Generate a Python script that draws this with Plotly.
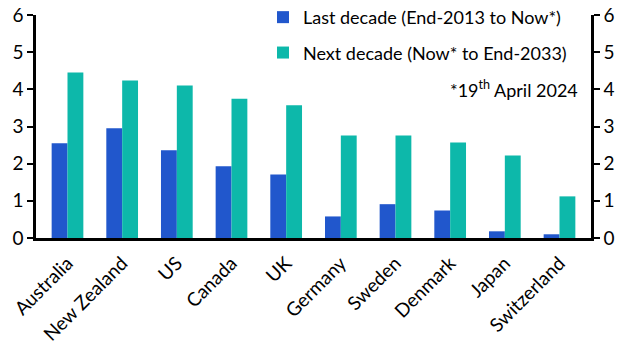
import plotly.graph_objects as go

countries = ["Australia", "New Zealand", "US", "Canada", "UK", "Germany",
             "Sweden", "Denmark", "Japan", "Switzerland"]
last_decade = [2.55, 2.95, 2.36, 1.93, 1.71, 0.58, 0.91, 0.74, 0.18, 0.10]
next_decade = [4.45, 4.24, 4.10, 3.75, 3.57, 2.76, 2.76, 2.57, 2.22, 1.12]
y_ticks = [0, 1, 2, 3, 4, 5, 6]

FONT = "Lato"
fig = go.Figure()
fig.add_trace(go.Bar(x=countries, y=last_decade, name="Last decade (End-2013 to Now*)",
                     marker=dict(color="#2157CC", line=dict(width=0)), legendgroup="a"))
fig.add_trace(go.Bar(x=countries, y=next_decade, name="Next decade (Now* to End-2033)",
                     marker=dict(color="#0DB8AA", line=dict(width=0)), legendgroup="b"))
fig.add_trace(go.Scatter(x=countries, y=next_decade, yaxis="y2", mode="markers",
                         marker=dict(opacity=0), showlegend=False, hoverinfo="skip"))

axis_common = dict(range=[0, 6], tickvals=y_ticks, showgrid=False, zeroline=False,
                   showline=True, linecolor="black", linewidth=2.5,
                   ticks="outside", ticklen=6, tickwidth=2, tickcolor="black",
                   automargin=False, ticklabeloverflow="allow",
                   tickfont=dict(family=FONT, size=19, color="black"))

# page body adds 8px offset, so the figure is 8px smaller than the window
fig.update_layout(
    width=624, height=349,
    margin=dict(l=28, r=41, t=7, b=119, autoexpand=False),
    paper_bgcolor="white", plot_bgcolor="white",
    barmode="group", bargap=0.42, bargroupgap=0,
    font=dict(family=FONT, size=18, color="black"),
    xaxis=dict(tickangle=-45, showline=True, linecolor="black", linewidth=2.5,
               ticks="", automargin=False, ticklabeloverflow="allow",
               ticklabelstandoff=4,
               tickfont=dict(family=FONT, size=19, color="black"),
               showgrid=False),
    yaxis=dict(side="left", **axis_common),
    yaxis2=dict(side="right", overlaying="y", **axis_common),
    legend=dict(x=0.409, y=1.072, xref="paper", yref="paper",
                xanchor="left", yanchor="top",
                font=dict(family=FONT, size=18, color="black"),
                bgcolor="rgba(0,0,0,0)", tracegroupgap=9,
                itemwidth=30),
    showlegend=True,
    annotations=[dict(x=0.98, y=4.0, xref="paper", yref="y", xanchor="right",
                      yanchor="middle", showarrow=False,
                      text="*19<sup>th</sup> April 2024",
                      font=dict(family=FONT, size=18, color="black"))],
)

fig.write_html("out.html")
